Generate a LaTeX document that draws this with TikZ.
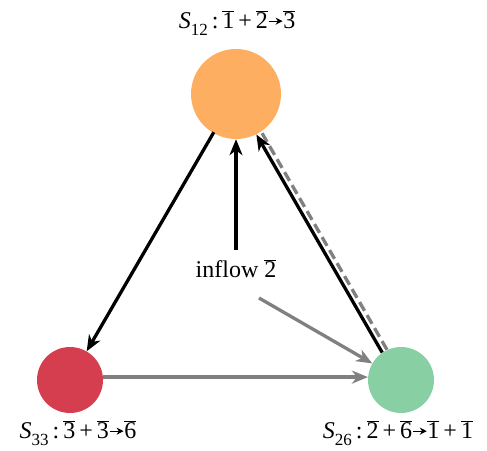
\documentclass[tikz,border=0pt]{standalone}
\usepackage{fontspec}
\setmainfont{Liberation Serif}
\usetikzlibrary{arrows.meta,calc}
\definecolor{corange}{HTML}{FDAE61}
\definecolor{cred}{HTML}{D53E4F}
\definecolor{cgreen}{HTML}{88D0A4}
\definecolor{cgray}{HTML}{808080}
\newcommand\sarr{\tikz[baseline=-0.62ex]\draw[-{Stealth[length=7pt,width=7pt]},line width=1.3pt](0,0)--(14pt,0);}
\newcommand\ob[1]{$\overline{\mbox{#1}}$}
\newcommand\speclab[1]{\textit{S}\raisebox{-7pt}{\fontsize{17}{18}\selectfont #1}\,:\,}
\newcommand\pl{\,+\,}
\begin{document}
\begin{tikzpicture}[x=1pt,y=-1pt,
  blob/.style={circle,draw=none,inner sep=0pt},
  blk/.style={line width=3.3pt,black,-{Stealth[length=16pt,width=13pt,inset=5pt]}},
  gry/.style={line width=3.3pt,cgray,-{Stealth[length=16pt,width=13pt,inset=5pt]}},
  lab/.style={font=\fontsize{24}{26}\selectfont,anchor=base,inner sep=0pt}]
\useasboundingbox (0,0) rectangle (487,450);
\node[blob,fill=corange,minimum size=90pt] (o) at (236,94) {};
\node[blob,fill=cred,minimum size=66pt] (r) at (70,380) {};
\node[blob,fill=cgreen,minimum size=66pt] (g) at (401,380) {};
\coordinate (in) at (236,250);
\coordinate (src) at (259,298);
% edges
\draw[blk,shorten <=-1pt] (o) -- (r);
\draw[gry] (r.5) -- (g.175);
\draw[cgray,line width=3.3pt,dash pattern=on 10pt off 5pt,transform canvas={shift={(2.6pt,1.5pt)}}] (g) -- (o);
\draw[blk,transform canvas={shift={(-2.2pt,-1.3pt)}}] (g) -- (o);
\draw[blk] (in) -- (o);
\draw[gry] (src) -- (g);
% labels
\node[lab] (lin) at (236,277) {inflow \ob{2}};
\node[lab] (lo) at (237,28) {\speclab{12}\ob{1}\pl\ob{2}\sarr\ob{3}};
\node[lab] (lr) at (78,438) {\speclab{33}\ob{3}\pl\ob{3}\sarr\ob{6}};
\node[lab] (lg) at (398,438) {\speclab{26}\ob{2}\pl\ob{6}\sarr\ob{1}\pl\ob{1}};
\end{tikzpicture}
\end{document}
